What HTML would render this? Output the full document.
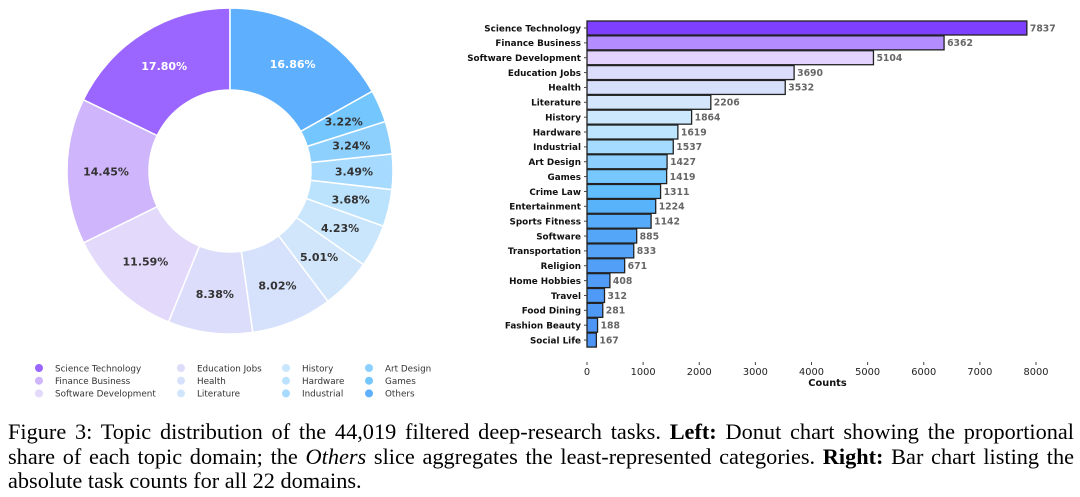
<!DOCTYPE html>
<html><head><meta charset="utf-8"><style>
body{margin:0;width:1080px;height:497px;background:#fff;overflow:hidden;position:relative}
svg{position:absolute;left:0;top:0}
.cap{position:absolute;left:8px;top:420px;width:1066px;font-family:"Liberation Serif",serif;font-size:22.3px;line-height:24.5px;color:#000}
.cap div{text-align:justify;text-align-last:justify;white-space:nowrap}
.cap div.l{text-align-last:left}
</style></head><body>
<svg id="s" width="1080" height="410" xmlns="http://www.w3.org/2000/svg" font-family="DejaVu Sans, Liberation Sans, sans-serif"></svg>
<div class="cap"><div>Figure 3: Topic distribution of the 44,019 filtered deep-research tasks. <b>Left:</b> Donut chart showing the proportional</div><div>share of each topic domain; the <i>Others</i> slice aggregates the least-represented categories. <b>Right:</b> Bar chart listing the</div><div class="l">absolute task counts for all 22 domains.</div></div>
<script>
var s=document.getElementById('s'),h='';
var cx=230,cy=171,R=163,r=81;
var sl=[["Science Technology",17.80,"#9b66ff"],["Finance Business",14.45,"#cfb5fb"],["Software Development",11.59,"#e2d9fb"],["Education Jobs",8.38,"#dcdcfb"],["Health",8.02,"#d6e2fb"],["Literature",5.01,"#d2e6fb"],["History",4.23,"#cae6fc"],["Hardware",3.68,"#bce3fd"],["Industrial",3.49,"#a6dafe"],["Art Design",3.24,"#8dd0fe"],["Games",3.22,"#74c7fe"],["Others",16.86,"#5eb0fe"]];
var tot=0;sl.forEach(function(d){tot+=d[1]});
var a=90;
function pt(rad,ang){var t=ang*Math.PI/180;return [cx+rad*Math.cos(t),cy-rad*Math.sin(t)];}
sl.forEach(function(d,i){
 var sw=d[1]/tot*360,a2=a+sw,lg=sw>180?1:0;
 var p1=pt(R,a),p2=pt(R,a2),p3=pt(r,a2),p4=pt(r,a);
 h+='<path d="M'+p1+' A'+R+','+R+' 0 '+lg+' 0 '+p2+' L'+p3+' A'+r+','+r+' 0 '+lg+' 1 '+p4+'Z" fill="'+d[2]+'" stroke="#fff" stroke-width="1.5"/>';
 var m=pt(124,(a+a2)/2);
 h+='<text x="'+m[0]+'" y="'+(m[1]+4)+'" text-anchor="middle" font-size="11" font-weight="bold" fill="'+((i==0||i==11)?'#fff':'#333')+'">'+d[1].toFixed(2)+'%</text>';
 a=a2;
});
var lx=[39,181,286,369];
sl.forEach(function(d,i){var c=Math.floor(i/3),rr=i%3,y=368+rr*12.7;
 h+='<circle cx="'+lx[c]+'" cy="'+y+'" r="4" fill="'+d[2]+'"/><text x="'+(lx[c]+16)+'" y="'+(y+3.3)+'" font-size="8.8" fill="#333">'+d[0]+'</text>';});
var bars=[["Science Technology",7837,"#7f3fff"],["Finance Business",6362,"#b38cff"],["Software Development",5104,"#e3d2fe"],["Education Jobs",3690,"#dcdcfb"],["Health",3532,"#d6e0fb"],["Literature",2206,"#d4e6fb"],["History",1864,"#cce8fd"],["Hardware",1619,"#bde6fe"],["Industrial",1537,"#a5dbff"],["Art Design",1427,"#8ccffe"],["Games",1419,"#77c8fe"],["Crime Law",1311,"#62bdfd"],["Entertainment",1224,"#59b3fb"],["Sports Fitness",1142,"#56abfa"],["Software",885,"#54a6f9"],["Transportation",833,"#53a2f8"],["Religion",671,"#519ff7"],["Home Hobbies",408,"#509cf7"],["Travel",312,"#4f9af6"],["Food Dining",281,"#4e98f6"],["Fashion Beauty",188,"#4d96f5"],["Social Life",167,"#4c94f5"]];
var x0=587,k=449/8000,top=6,bot=362,right=1068;
h+='<rect x="'+x0+'" y="'+top+'" width="'+(right-x0)+'" height="'+(bot-top)+'" fill="none" stroke="#999" stroke-width="1"/>';
bars.forEach(function(b,i){var yc=28+i*14.86,w=b[1]*k;
 h+='<rect x="'+x0+'" y="'+(yc-7)+'" width="'+w+'" height="14" fill="'+b[2]+'" stroke="#222" stroke-width="1.3"/>';
 h+='<text x="'+(x0-6)+'" y="'+(yc+3.3)+'" text-anchor="end" font-size="8.8" font-weight="bold" fill="#111">'+b[0]+'</text>';
 h+='<line x1="'+(x0-3)+'" x2="'+x0+'" y1="'+yc+'" y2="'+yc+'" stroke="#444"/>';
 h+='<text x="'+(x0+w+3)+'" y="'+(yc+3.3)+'" font-size="9.3" font-weight="bold" fill="#666">'+b[1]+'</text>';});
for(var t=0;t<=8000;t+=1000){var x=x0+t*k;h+='<line x1="'+x+'" x2="'+x+'" y1="'+bot+'" y2="'+(bot+3)+'" stroke="#444"/><text x="'+x+'" y="'+(bot+13)+'" text-anchor="middle" font-size="9.8" fill="#222">'+t+'</text>';}
h+='<text x="'+((x0+right)/2)+'" y="'+(bot+24)+'" text-anchor="middle" font-size="9.8" font-weight="bold" fill="#111">Counts</text>';
s.innerHTML=h;
</script>
</body></html>
